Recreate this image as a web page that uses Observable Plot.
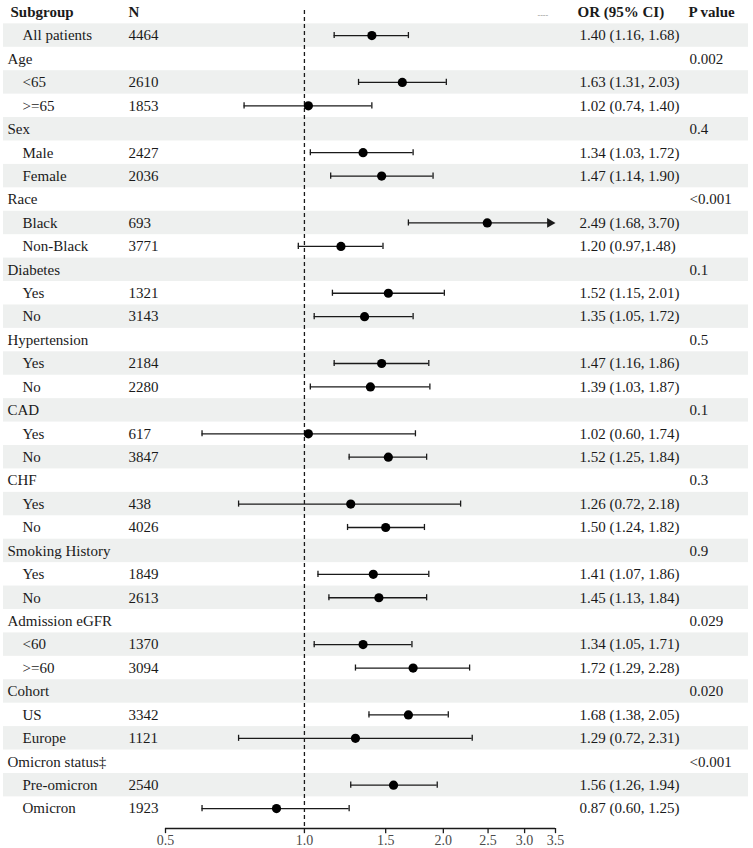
<!DOCTYPE html>
<html>
<head>
<meta charset="utf-8">
<script src="https://cdn.jsdelivr.net/npm/d3@7"></script>
<script src="https://cdn.jsdelivr.net/npm/@observablehq/plot@0.6"></script>
<style>
  html, body { margin: 0; padding: 0; background: #fff; }
</style>
</head>
<body>
<div id="chart"></div>
<script>
const labels = ["All patients","Age","<65",">=65","Sex","Male","Female","Race","Black","Non-Black",
  "Diabetes","Yes","No","Hypertension","Yes","No","CAD","Yes","No","CHF","Yes","No",
  "Smoking History","Yes","No","Admission eGFR","<60",">=60","Cohort","US","Europe",
  "Omicron status\u2021","Pre-omicron","Omicron"];
const nValues = [4464,null,2610,1853,null,2427,2036,null,693,3771,null,1321,3143,null,2184,2280,
  null,617,3847,null,438,4026,null,1849,2613,null,1370,3094,null,3342,1121,null,2540,1923];
const orValues = [1.40,null,1.63,1.02,null,1.34,1.47,null,2.49,1.20,null,1.52,1.35,null,1.47,1.39,
  null,1.02,1.52,null,1.26,1.50,null,1.41,1.45,null,1.34,1.72,null,1.68,1.29,null,1.56,0.87];
const lowValues = [1.16,null,1.31,0.74,null,1.03,1.14,null,1.68,0.97,null,1.15,1.05,null,1.16,1.03,
  null,0.60,1.25,null,0.72,1.24,null,1.07,1.13,null,1.05,1.29,null,1.38,0.72,null,1.26,0.60];
const highValues = [1.68,null,2.03,1.40,null,1.72,1.90,null,3.70,1.48,null,2.01,1.72,null,1.86,1.87,
  null,1.74,1.84,null,2.18,1.82,null,1.86,1.84,null,1.71,2.28,null,2.05,2.31,null,1.94,1.25];
const orTexts = ["1.40 (1.16, 1.68)","","1.63 (1.31, 2.03)","1.02 (0.74, 1.40)","","1.34 (1.03, 1.72)",
  "1.47 (1.14, 1.90)","","2.49 (1.68, 3.70)","1.20 (0.97,1.48)","","1.52 (1.15, 2.01)","1.35 (1.05, 1.72)",
  "","1.47 (1.16, 1.86)","1.39 (1.03, 1.87)","","1.02 (0.60, 1.74)","1.52 (1.25, 1.84)","",
  "1.26 (0.72, 2.18)","1.50 (1.24, 1.82)","","1.41 (1.07, 1.86)","1.45 (1.13, 1.84)","",
  "1.34 (1.05, 1.71)","1.72 (1.29, 2.28)","","1.68 (1.38, 2.05)","1.29 (0.72, 2.31)","",
  "1.56 (1.26, 1.94)","0.87 (0.60, 1.25)"];
const pTexts = ["","0.002","","","0.4","","","<0.001","","","0.1","","","0.5","","","0.1","","",
  "0.3","","","0.9","","","0.029","","","0.020","","","<0.001","",""];
const headers = ["Subgroup","N","OR (95% CI)","P value"];
const xTicks = [0.5,1.0,1.5,2.0,2.5,3.0,3.5];
const xMax = 3.5;

const rows = labels.map((label, i) => ({
  i, label, n: nValues[i], or: orValues[i], low: lowValues[i], high: highValues[i],
  orText: orTexts[i], p: pTexts[i], indent: nValues[i] != null
}));
const est = rows.filter(d => d.or != null);
const capped = est.filter(d => d.high <= xMax);
const arrowed = est.filter(d => d.high > xMax);
const shaded = rows.filter(d => d.i % 2 === 0);

const Y0 = -1.07, Y1 = 33.85;
const HEAD = -1;
const font = "Liberation Serif, Times New Roman, serif";
const ink = "#1a1a1a";
const capH = 0.13;
const tickLen = 0.22;

const chart = Plot.plot({
  width: 753,
  height: 848,
  marginLeft: 0,
  marginRight: 0,
  marginTop: 10,
  marginBottom: 20,
  style: { fontFamily: font, background: "#fff" },
  x: { type: "log", domain: [0.5, xMax], range: [165, 555], axis: null },
  y: { type: "linear", domain: [Y0, Y1], range: [10, 828], axis: null },
  marks: [
    Plot.rect(shaded, { y1: d => d.i - 0.5, y2: d => d.i + 0.5, fill: "#eef0ef", insetLeft: 3, insetRight: 5 }),
    Plot.ruleX([1], { stroke: ink, strokeWidth: 1.3, strokeDasharray: "4,3" }),
    Plot.ruleY([Y1], { x1: 0.5, x2: xMax, stroke: ink, strokeWidth: 1.3 }),
    Plot.ruleX(xTicks, { x: d => d, y1: Y1, y2: Y1 + tickLen, stroke: ink, strokeWidth: 1.3 }),
    Plot.text(xTicks, { x: d => d, text: d3.format(".1f"), frameAnchor: "bottom", lineAnchor: "middle",
      dy: 12.5, fontSize: 14, fill: "#4a4a4a" }),
    // CI lines
    Plot.ruleY(capped, { y: "i", x1: "low", x2: "high", stroke: ink, strokeWidth: 1.3 }),
    Plot.ruleY(arrowed, { y: "i", x1: "low", x2: () => xMax, stroke: ink, strokeWidth: 1.3, insetRight: 7 }),
    Plot.ruleX(capped, { x: "low", y1: d => d.i - capH, y2: d => d.i + capH, stroke: ink, strokeWidth: 1.3 }),
    Plot.ruleX(capped, { x: "high", y1: d => d.i - capH, y2: d => d.i + capH, stroke: ink, strokeWidth: 1.3 }),
    Plot.ruleX(arrowed, { x: "low", y1: d => d.i - capH, y2: d => d.i + capH, stroke: ink, strokeWidth: 1.3 }),
    Plot.dot(arrowed, { x: () => xMax, y: "i", symbol: "triangle", rotate: 90, r: 3.6, dx: -5.6, fill: ink, stroke: "none" }),
    Plot.dot(est, { x: "or", y: "i", r: 4.6, fill: "#000", stroke: "none" }),
    // text columns
    Plot.text(rows.filter(d => !d.indent), { y: "i", text: "label", frameAnchor: "left", dx: 7, fontSize: 15, fill: ink }),
    Plot.text(rows.filter(d => d.indent), { y: "i", text: "label", frameAnchor: "left", dx: 22, fontSize: 15, fill: ink }),
    Plot.text(rows.filter(d => d.n != null), { y: "i", text: d => String(d.n), frameAnchor: "left", dx: 128, fontSize: 15, fill: ink }),
    Plot.text(rows.filter(d => d.orText), { y: "i", text: "orText", frameAnchor: "left", dx: 579, fontSize: 15, fill: ink }),
    Plot.text(rows.filter(d => d.p), { y: "i", text: "p", frameAnchor: "left", dx: 689, fontSize: 15, fill: ink }),
    // headers
    Plot.text([headers[0]], { y: () => HEAD, text: d => d, frameAnchor: "left", dx: 10, fontSize: 15, fontWeight: "bold", fill: ink }),
    Plot.text([headers[1]], { y: () => HEAD, text: d => d, frameAnchor: "left", dx: 128, fontSize: 15, fontWeight: "bold", fill: ink }),
    Plot.text([headers[2]], { y: () => HEAD, text: d => d, frameAnchor: "left", dx: 577, fontSize: 15, fontWeight: "bold", fill: ink }),
    Plot.text([headers[3]], { y: () => HEAD, text: d => d, frameAnchor: "left", dx: 688, fontSize: 15, fontWeight: "bold", fill: ink }),
    Plot.text(["----"], { y: () => HEAD, text: d => d, frameAnchor: "left", dx: 537, dy: 3, fontSize: 8, fill: "#999" })
  ]
});
document.getElementById("chart").appendChild(chart);
</script>
</body>
</html>
